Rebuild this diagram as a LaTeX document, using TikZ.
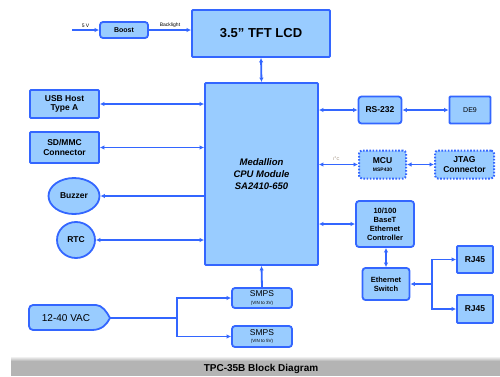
\documentclass[tikz,border=0pt]{standalone}
\usepackage{fontspec}
\setmainfont{Liberation Sans}
\usetikzlibrary{arrows.meta,shapes.geometric}
\definecolor{bl}{HTML}{3366FF}
\definecolor{fl}{HTML}{99CCFF}
\definecolor{band}{HTML}{B4B4B4}
\begin{document}
\begin{tikzpicture}[x=1pt,y=-1pt,
  >={Latex[length=4.5pt,width=4.5pt]},
  box/.style={draw=bl, fill=fl, line width=1.8pt, rounded corners=3pt, align=center, inner sep=1pt,
    font=\bfseries\fontsize{8.5}{9.5}\selectfont},
  sqbox/.style={box, rounded corners=1pt},
  dotbox/.style={box, line width=2pt, dash pattern=on 1.6pt off 1.6pt},
  roundbox/.style={box, ellipse, inner sep=0pt},
  link/.style={draw=bl, line width=1.8pt},
  arr/.style={link, ->},
  bi/.style={link, <->},
  rarr/.style={link, <-},
  small/.style={font=\fontsize{5}{6}\selectfont, inner sep=0.5pt}
]
\useasboundingbox (0,0) rectangle (500,376);

% top row
\node[box, minimum width=48pt, minimum height=16pt, font=\bfseries\fontsize{7}{8}\selectfont] (boost) at (124,30) {Boost};
\node[sqbox, minimum width=138pt, minimum height=47pt, font=\bfseries\fontsize{13}{15}\selectfont] (lcd) at (261,33.5) {3.5" TFT LCD};
\coordinate (in5) at (72,30);
\draw[arr] (in5) -- (boost.west) node[small, midway, above=1pt] (l5v) {5 V};
\draw[arr] (boost.east) -- (lcd.west |- boost.east) node[small, midway, above=1pt] (lbl) {Backlight};

% CPU
\node[sqbox, minimum width=113pt, minimum height=182pt, font=\bfseries\itshape\fontsize{9.5}{12}\selectfont] (cpu) at (261.5,174) {Medallion\\CPU Module\\SA2410-650};
\draw[bi] (lcd.south) -- (cpu.north);

% left column
\node[sqbox, minimum width=69pt, minimum height=28pt] (usb) at (64.5,104) {USB Host\\Type A};
\node[sqbox, minimum width=69pt, minimum height=31pt] (sd) at (64.5,147.5) {SD/MMC\\Connector};
\node[roundbox, minimum width=51pt, minimum height=36pt] (buz) at (74,196) {Buzzer};
\node[roundbox, minimum width=38pt, minimum height=36pt] (rtc) at (76,240) {RTC};
\draw[bi] (usb.east) -- (cpu.west |- usb.east);
\draw[bi] (sd.east) -- (cpu.west |- sd.east);
\draw[arr] (cpu.west |- buz.east) -- (buz.east);
\draw[bi] (rtc.east) -- (cpu.west |- rtc.east);

% right column
\node[box, minimum width=43pt, minimum height=27pt] (rs) at (380,110) {RS-232};
\node[sqbox, minimum width=41pt, minimum height=27pt, font=\fontsize{7}{8}\selectfont] (de9) at (470,110) {DE9};
\draw[bi] (cpu.east |- rs.west) -- (rs.west);
\draw[bi] (rs.east) -- (de9.west);

\node[dotbox, minimum width=47pt, minimum height=28pt] (mcu) at (382.5,164.5) {MCU\\[-1pt]{\fontsize{5}{6}\selectfont MSP430}};
\node[dotbox, minimum width=59pt, minimum height=28pt] (jtag) at (464.5,164.5) {JTAG\\Connector};
\draw[bi] (cpu.east |- mcu.west) -- (mcu.west) node[small, pos=0.45, above=3pt, text=gray!70!brown, font=\fontsize{4}{5}\selectfont] (li2c) {I\textsuperscript{2}C};
\draw[bi] (mcu.east) -- (jtag.west);

\node[box, minimum width=58pt, minimum height=46pt, font=\bfseries\fontsize{7.5}{9}\selectfont] (eth) at (385,224) {10/100\\BaseT\\Ethernet\\Controller};
\draw[bi] (cpu.east |- eth.west) -- (eth.west);
\node[box, minimum width=47pt, minimum height=32pt, font=\bfseries\fontsize{7.5}{9}\selectfont] (sw) at (386,284) {Ethernet\\Switch};
\draw[bi] (eth.south -| sw.north) -- (sw.north);
\node[sqbox, minimum width=36pt, minimum height=27pt] (rj1) at (475,259.5) {RJ45};
\node[sqbox, minimum width=36pt, minimum height=28pt] (rj2) at (475,309) {RJ45};
\coordinate (j2) at (432,284);
\draw[rarr] (sw.east) -- (j2);
\draw[arr] (j2) |- (rj1.west);
\draw[arr] (j2) |- (rj2.west);

% power
\node[box, minimum width=60pt, minimum height=20pt, font=\fontsize{8.5}{8.5}\selectfont] (smps1) at (262,298) {SMPS\\[-1pt]{\fontsize{4.5}{5}\selectfont (VIN to 3V)}};
\node[box, minimum width=60pt, minimum height=21pt, font=\fontsize{8.5}{8.5}\selectfont] (smps2) at (262,336.5) {SMPS\\[-1pt]{\fontsize{4.5}{5}\selectfont (VIN to 5V)}};
\draw[arr] (smps1.north) -- (cpu.south);

\draw[draw=bl, fill=fl, line width=1.8pt]
  (92,330) {[rounded corners=4pt] -- (29,330) -- (29,305) -- (92,305)}
  .. controls (102,305) and (107,312) .. (110,318)
  .. controls (107,324) and (102,330) .. (92,330) -- cycle;
\node[font=\fontsize{10}{11}\selectfont] (vac) at (66,318) {12-40 VAC};
\coordinate (vactip) at (110,318);
\coordinate (j1) at (177,318);
\draw[link] (vactip) -- (j1);
\draw[arr] (j1) |- (smps1.west);
\draw[arr] (j1) |- (smps2.west);

% banner
\shade[top color=white, bottom color=band] (11,356) rectangle (500,361);
\fill[band] (11,361) rectangle (500,376);
\node[font=\bfseries\fontsize{10}{12}\selectfont] (title) at (261,368.5) {TPC-35B Block Diagram};
\end{tikzpicture}
\end{document}
